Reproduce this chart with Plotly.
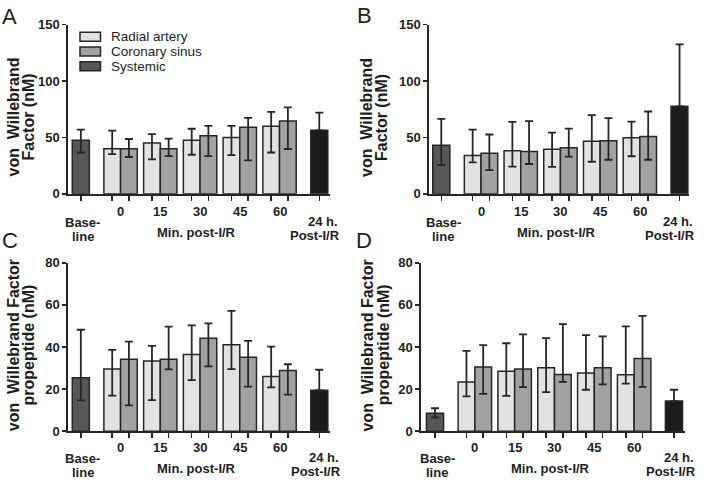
import plotly.graph_objects as go

# ---------------- data ----------------
categories = ["Baseline", "0", "15", "30", "45", "60", "24 h."]
minutes = ["0", "15", "30", "45", "60"]
systemic_cats = ["Baseline", "24 h."]

# Panel A: von Willebrand Factor (nM)
A_radial = [40.0, 45.1, 47.4, 50.0, 60.0]
A_radial_hi = [56.0, 52.9, 57.7, 60.3, 72.6]
A_radial_lo = [35.1, 30.6, 34.6, 34.3, 36.6]
A_coronary = [40.0, 40.0, 51.4, 59.1, 64.6]
A_coronary_hi = [48.6, 48.9, 60.3, 67.4, 76.6]
A_coronary_lo = [32.6, 33.4, 33.4, 29.7, 39.7]
A_systemic = [47.4, 56.3]
A_systemic_hi = [56.9, 72.0]
A_systemic_lo = [36.6, 56.3]

# Panel B
B_radial = [33.9, 38.2, 39.4, 46.6, 49.7]
B_radial_hi = [56.9, 63.8, 54.3, 69.8, 64.1]
B_radial_lo = [27.9, 24.1, 23.9, 28.4, 33.3]
B_coronary = [35.9, 37.6, 40.8, 47.1, 50.9]
B_coronary_hi = [52.6, 64.4, 57.8, 67.2, 73.0]
B_coronary_lo = [21.0, 26.4, 33.0, 30.2, 30.2]
B_systemic = [43.1, 77.6]
B_systemic_hi = [66.4, 132.5]
B_systemic_lo = [25.6, 77.6]

# Panel C: von Willebrand Factor propeptide (nM)
C_radial = [29.5, 33.4, 36.5, 41.1, 26.0]
C_radial_hi = [38.6, 40.5, 50.3, 57.2, 40.2]
C_radial_lo = [16.9, 14.8, 24.3, 29.5, 20.8]
C_coronary = [34.2, 34.2, 44.2, 35.1, 28.8]
C_coronary_hi = [42.6, 49.7, 51.2, 42.9, 31.8]
C_coronary_lo = [12.3, 29.4, 30.8, 21.2, 17.4]
C_systemic = [25.4, 19.4]
C_systemic_hi = [48.2, 29.2]
C_systemic_lo = [14.6, 19.4]

# Panel D
D_radial = [23.4, 28.5, 30.2, 27.7, 26.8]
D_radial_hi = [38.2, 41.8, 44.2, 45.7, 49.8]
D_radial_lo = [16.5, 16.8, 18.6, 19.7, 22.6]
D_coronary = [30.5, 29.5, 26.9, 30.2, 34.6]
D_coronary_hi = [40.9, 46.0, 50.9, 45.1, 54.8]
D_coronary_lo = [17.7, 20.9, 23.4, 22.2, 21.1]
D_systemic = [8.5, 14.3]
D_systemic_hi = [10.9, 19.7]
D_systemic_lo = [6.5, 14.3]

y_ticks_vwf = [0, 50, 100, 150]
y_ticks_pro = [0, 20, 40, 60, 80]

# ---------------- styling ----------------
FONT = "Liberation Sans, Arial, Helvetica, sans-serif"
INK = "#262626"
TXT = "#1e1e1e"
C_RADIAL = "#e2e2e2"
C_CORONARY = "#a2a2a2"
C_SYS_BASE = "#575757"
C_SYS_24 = "#1c1c1c"
BAR_W = 0.42
W, H = 704, 486


def pos(cat):
    return categories.index(cat)


def px_x(v):
    return v / W


def px_y(v):
    return 1 - v / H


panels = [
    dict(letter="A", radial=(A_radial, A_radial_hi, A_radial_lo),
         coronary=(A_coronary, A_coronary_hi, A_coronary_lo),
         systemic=(A_systemic, A_systemic_hi, A_systemic_lo),
         yticks=y_ticks_vwf, ymax=150,
         xdom=[68.3, 330.0], ydom=[192.7, 18.3], xrange=[-0.315, 6.27],
         title=["von\u00a0 Willebrand", "Factor (nM)"],
         title_x=[13.0, 28.0], title_y=114, letter_xy=(9.5, 10),
         right_shift=22.5, lab_dy=0),
    dict(letter="B", radial=(B_radial, B_radial_hi, B_radial_lo),
         coronary=(B_coronary, B_coronary_hi, B_coronary_lo),
         systemic=(B_systemic, B_systemic_hi, B_systemic_lo),
         yticks=y_ticks_vwf, ymax=150,
         xdom=[429.3, 688.7], ydom=[192.7, 18.3], xrange=[-0.302, 6.23],
         title=["von\u00a0 Willebrand", "Factor (nM)"],
         title_x=[366.5, 381.5], title_y=114, letter_xy=(364.5, 9),
         right_shift=17.5, lab_dy=0),
    dict(letter="C", radial=(C_radial, C_radial_hi, C_radial_lo),
         coronary=(C_coronary, C_coronary_hi, C_coronary_lo),
         systemic=(C_systemic, C_systemic_hi, C_systemic_lo),
         yticks=y_ticks_pro, ymax=80,
         xdom=[68.3, 330.0], ydom=[437.7, 264.0], xrange=[-0.315, 6.27],
         title=["von\u00a0 Willebrand Factor", "propeptide (nM)"],
         title_x=[13.0, 28.3], title_y=349, letter_xy=(10, 241),
         right_shift=23.5, lab_dy=1.5),
    dict(letter="D", radial=(D_radial, D_radial_hi, D_radial_lo),
         coronary=(D_coronary, D_coronary_hi, D_coronary_lo),
         systemic=(D_systemic, D_systemic_hi, D_systemic_lo),
         yticks=y_ticks_pro, ymax=80,
         xdom=[421.3, 685.0], ydom=[437.7, 264.0], xrange=[-0.344, 6.277],
         title=["von\u00a0 Willebrand Factor", "propeptide (nM)"],
         title_x=[367.3, 383.0], title_y=349, letter_xy=(364, 241),
         right_shift=24.5, lab_dy=1.5),
]

fig = go.Figure()
annotations = []
shapes = []
layout = {}


def err(mean, hi, lo):
    return dict(type="data", symmetric=False,
                array=[h - m for h, m in zip(hi, mean)],
                arrayminus=[m - l for m, l in zip(mean, lo)],
                color=INK, thickness=1.8, width=4)


for i, p in enumerate(panels):
    n = "" if i == 0 else str(i + 1)
    xa, ya = "x" + n, "y" + n
    rx = [pos(m) - BAR_W / 2 for m in minutes]
    cx = [pos(m) + BAR_W / 2 for m in minutes]
    sx = [pos(c) for c in systemic_cats]

    rm, rh, rl = p["radial"]
    cm, ch, cl = p["coronary"]
    sm, sh, sl = p["systemic"]

    fig.add_trace(go.Bar(x=rx, y=rm, width=BAR_W, xaxis=xa, yaxis=ya,
                         name="Radial artery", showlegend=False,
                         marker=dict(color=C_RADIAL, line=dict(color=INK, width=1.5)),
                         error_y=err(rm, rh, rl)))
    fig.add_trace(go.Bar(x=cx, y=cm, width=BAR_W, xaxis=xa, yaxis=ya,
                         name="Coronary sinus", showlegend=False,
                         marker=dict(color=C_CORONARY, line=dict(color=INK, width=1.5)),
                         error_y=err(cm, ch, cl)))
    fig.add_trace(go.Bar(x=sx, y=sm, width=0.43, xaxis=xa, yaxis=ya,
                         name="Systemic", showlegend=False,
                         marker=dict(color=[C_SYS_BASE, C_SYS_24], line=dict(color=INK, width=1.5)),
                         error_y=err(sm, sh, sl)))

    tickvals = sorted(rx + cx + sx)
    layout["xaxis" + n] = dict(
        domain=[px_x(p["xdom"][0]), px_x(p["xdom"][1])], range=p["xrange"],
        anchor=ya, tickvals=tickvals, ticktext=[""] * len(tickvals),
        ticks="outside", ticklen=5, tickwidth=1.5, tickcolor=INK,
        showline=True, linecolor=INK, linewidth=2, showgrid=False, zeroline=False,
        fixedrange=True)
    layout["yaxis" + n] = dict(
        domain=[px_y(p["ydom"][0]), px_y(p["ydom"][1])], range=[0, p["ymax"]],
        anchor=xa, tickvals=p["yticks"], ticktext=["<b>%d</b>" % t for t in p["yticks"]],
        ticks="outside", ticklen=4, tickwidth=1.5,
        tickcolor=INK, showline=True, linecolor=INK, linewidth=2, showgrid=False,
        zeroline=False, tickfont=dict(family=FONT, size=13, color=TXT),
        fixedrange=True)

    bold = dict(family=FONT, size=13, color=TXT)
    yd = ya + " domain"
    dy = p["lab_dy"]
    for m in minutes:
        annotations.append(dict(text="<b>%s</b>" % m, x=pos(m), y=0, xref=xa, yref=yd,
                                yanchor="middle", xanchor="center", yshift=-18 + dy,
                                showarrow=False, font=bold))
    annotations.append(dict(text="<b>Base-</b>", x=pos("Baseline"), y=0, xref=xa, yref=yd,
                            yanchor="middle", xanchor="center", yshift=-29 + dy, xshift=2,
                            showarrow=False, font=bold))
    annotations.append(dict(text="<b>line</b>", x=pos("Baseline"), y=0, xref=xa, yref=yd,
                            yanchor="middle", xanchor="center", yshift=-43 + dy, xshift=2,
                            showarrow=False, font=bold))
    annotations.append(dict(text="<b>Min. post-I/R</b>", x=pos("30"), y=0, xref=xa, yref=yd,
                            yanchor="middle", xanchor="center", yshift=-39 + dy, xshift=-4,
                            showarrow=False, font=bold))
    annotations.append(dict(text="<b>24 h.</b>", x=pos("24 h."), y=0, xref=xa, yref=yd,
                            yanchor="middle", xanchor="right", yshift=-28 + dy,
                            xshift=p["right_shift"] - 2, showarrow=False, font=bold))
    annotations.append(dict(text="<b>Post-I/R</b>", x=pos("24 h."), y=0, xref=xa, yref=yd,
                            yanchor="middle", xanchor="right", yshift=-42 + dy,
                            xshift=p["right_shift"], showarrow=False, font=bold))

    # y-axis titles (two lines)
    for line, tx in zip(p["title"], p["title_x"]):
        annotations.append(dict(text="<b>%s</b>" % line, x=px_x(tx), y=px_y(p["title_y"]),
                                xref="paper", yref="paper", textangle=-90,
                                xanchor="center", yanchor="middle", showarrow=False,
                                font=dict(family=FONT, size=16, color=TXT)))
    # panel letter
    lx, ly = p["letter_xy"]
    annotations.append(dict(text=p["letter"], x=px_x(lx), y=px_y(ly), xref="paper",
                            yref="paper", xanchor="center", yanchor="middle",
                            showarrow=False, font=dict(family=FONT, size=22, color=TXT)))

# legend (panel A)
legend_items = [("Radial artery", C_RADIAL), ("Coronary sinus", C_CORONARY),
                ("Systemic", C_SYS_BASE)]
for k, (label, col) in enumerate(legend_items):
    cy = 30.7 + k * 15.2
    shapes.append(dict(type="rect", xref="paper", yref="paper",
                       x0=px_x(80), x1=px_x(100.5), y0=px_y(cy + 4.6), y1=px_y(cy - 4.6),
                       fillcolor=col, line=dict(color=INK, width=1.5)))
    annotations.append(dict(text=label, x=px_x(109), y=px_y(cy), xref="paper", yref="paper",
                            xanchor="left", yanchor="middle", showarrow=False,
                            font=dict(family=FONT, size=13.5, color=TXT)))

fig.update_layout(
    width=W, height=H, margin=dict(l=0, r=0, t=0, b=0),
    paper_bgcolor="white", plot_bgcolor="white",
    barmode="overlay", showlegend=False, hovermode=False,
    font=dict(family=FONT, color=TXT),
    annotations=annotations, shapes=shapes,
    **layout,
)

fig.write_html("out.html", config={"displayModeBar": False, "staticPlot": True},
               post_script="document.body.style.margin='0';document.body.style.padding='0';")
